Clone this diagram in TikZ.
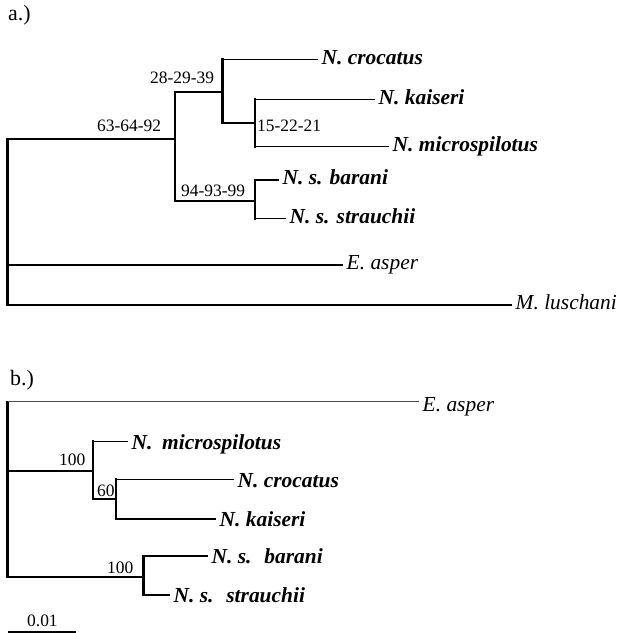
\documentclass[tikz,border=0pt]{standalone}
\usepackage{fontspec}
\setmainfont{Liberation Serif}
\usetikzlibrary{positioning}

\begin{document}
\begin{tikzpicture}[x=1bp, y=-1bp,
  hbr/.style={line width=1.3bp},
  vbr/.style={line width=2.4bp, line cap=rect},
  taxon/.style={anchor=west, inner xsep=3.5bp, inner ysep=0pt, text height=9.8bp, text depth=0pt,
    font=\fontsize{21.5}{23}\selectfont\bfseries\itshape},
  outgrp/.style={taxon, font=\fontsize{21.5}{23}\selectfont\itshape},
  taxonb/.style={taxon, text height=15bp},
  outgrpb/.style={outgrp, text height=19bp},
  boot/.style={anchor=base west, inner sep=0pt, font=\fontsize{17.5}{19}\selectfont},
  panel/.style={anchor=base west, inner sep=0pt, font=\fontsize{22}{24}\selectfont}]
  \useasboundingbox (0,0) rectangle (620,633);

  % ---------- a.) ----------
  \node[panel] (pa) at (8,21) {a.)};
  \coordinate (aR) at (7.5,139);
  \coordinate (aA) at (175,139);
  \coordinate (aB) at (222.5,92);
  \coordinate (aC) at (255,123);
  \coordinate (aD) at (255,201);
  % tips
  \node[taxon] (aCro) at (318,59.3) {N. crocatus};
  \node[taxon] (aKai) at (375,99.3) {N. kaiseri};
  \node[taxon] (aMic) at (389,146.7) {N. microspilotus};
  \node[taxon] (aBar) at (279,180) {N. s. barani};
  \node[taxon] (aStr) at (286,218.3) {N. s. strauchii};
  \node[outgrp] (aAsp) at (343,265) {E. asper};
  \node[outgrp] (aLus) at (512,305) {M. luschani};
  % vertical bars
  \draw[vbr] (aR) -- (aR |- aLus);
  \draw[vbr] (aA |- aB) -- (aA |- aD);
  \draw[vbr] (aB |- aCro) -- (aB |- aC);
  \draw[vbr] (aC |- aKai) -- (aC |- aMic);
  \draw[vbr] (aD |- aBar) -- (aD |- aStr);
  % horizontal branches
  \draw[hbr] (aR) -- (aA);
  \draw[hbr] (aA |- aB) -- (aB);
  \draw[hbr] (aB |- aC) -- (aC);
  \draw[hbr] (aA |- aD) -- (aD);
  \draw[hbr] (aB |- aCro) -- (aCro.west);
  \draw[hbr] (aC |- aKai) -- (aKai.west);
  \draw[hbr] (aC |- aMic) -- (aMic.west);
  \draw[hbr] (aD |- aBar) -- (aBar.west);
  \draw[hbr] (aD |- aStr) -- (aStr.west);
  \draw[hbr] (aR |- aAsp) -- (aAsp.west);
  \draw[hbr] (aR |- aLus) -- (aLus.west);
  % support values
  \node[boot] (sA) at (97,131.5) {63-64-92};
  \node[boot] (sB) at (150,83.3) {28-29-39};
  \node[boot] (sC) at (257,131.7) {15-22-21};
  \node[boot] (sD) at (181,196.7) {94-93-99};

  % ---------- b.) ----------
  \node[panel] (pb) at (10,385.7) {b.)};
  \coordinate (bR) at (7.5,401.7);
  \coordinate (bP) at (92.7,471);
  \coordinate (bQ) at (115.7,499);
  \coordinate (bS) at (143.3,577);
  % tips
  \node[outgrpb] (bAsp) at (419,401.7) {E. asper};
  \node[taxonb] (bMic) at (128,441.5) {N.\hspace{0.45em}microspilotus};
  \node[taxonb] (bCro) at (234,479.5) {N. crocatus};
  \node[taxonb] (bKai) at (216,519) {N. kaiseri};
  \node[taxonb] (bBar) at (208,556) {N. s.\hspace{0.6em}barani};
  \node[taxonb] (bStr) at (170,595) {N. s.\hspace{0.6em}strauchii};
  % vertical bars
  \draw[vbr] (bR) -- (bR |- bS);
  \draw[vbr] (bP |- bMic) -- (bP |- bQ);
  \draw[vbr] (bQ |- bCro) -- (bQ |- bKai);
  \draw[vbr] (bS |- bBar) -- (bS |- bStr);
  % horizontal branches
  \draw[hbr, black!70] (bR) -- (bAsp.west);
  \draw[hbr] (bR |- bP) -- (bP);
  \draw[hbr] (bP |- bQ) -- (bQ);
  \draw[hbr] (bR |- bS) -- (bS);
  \draw[hbr] (bP |- bMic) -- (bMic.west);
  \draw[hbr] (bQ |- bCro) -- (bCro.west);
  \draw[hbr] (bQ |- bKai) -- (bKai.west);
  \draw[hbr] (bS |- bBar) -- (bBar.west);
  \draw[hbr] (bS |- bStr) -- (bStr.west);
  % support values
  \node[boot] (sP) at (59,465.5) {100};
  \node[boot] (sQ) at (97,496) {60};
  \node[boot] (sS) at (107,573.3) {100};
  % scale bar
  \coordinate (sbL) at (8,632);
  \coordinate (sbR) at (76,632);
  \draw[hbr] (sbL) -- (sbR);
  \node[boot] (sbT) at (27,626.7) {0.01};
\end{tikzpicture}
\end{document}
